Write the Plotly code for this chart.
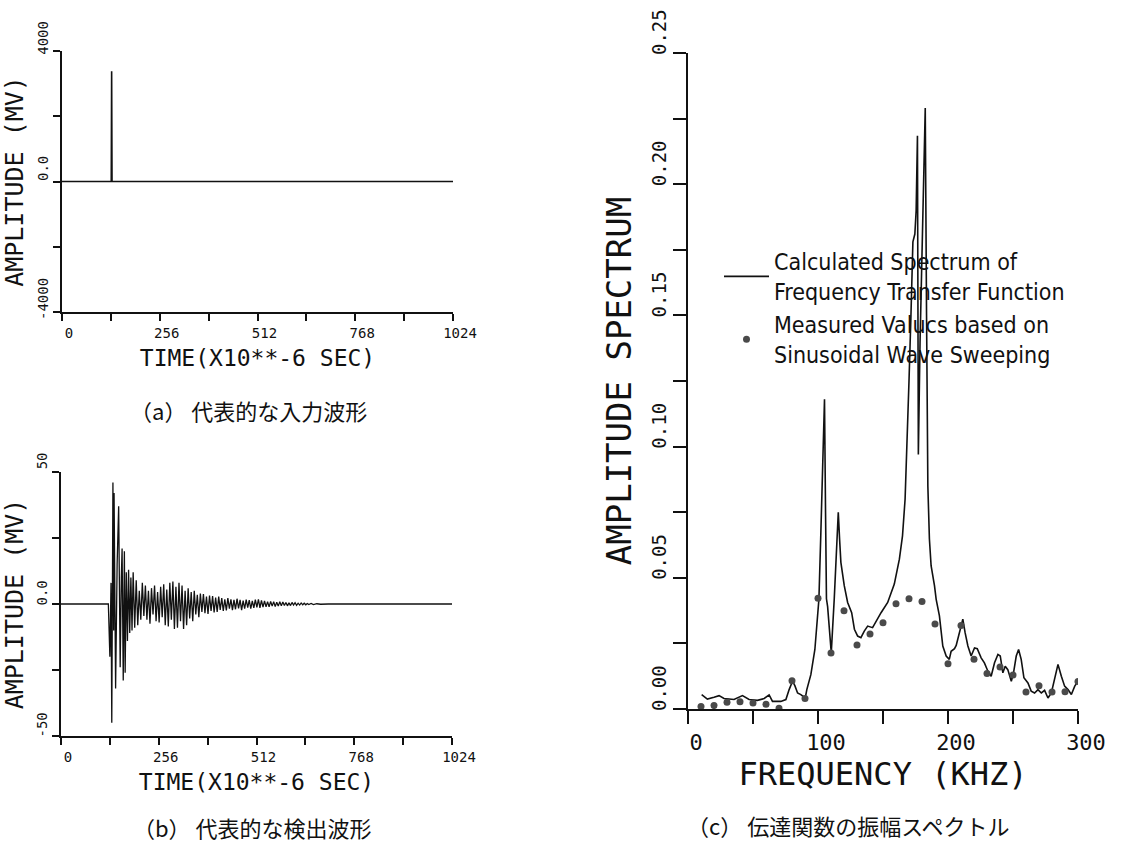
import plotly.graph_objects as go

# ---------------- data ----------------
# (a) typical input waveform (time in microseconds, amplitude in mV)
t_input = [0, 129, 130, 131, 1024]
v_input = [0, 0, 3380, 0, 0]

# (b) typical detected waveform (extremes)
t_detect = [0, 124, 128, 131, 133, 136, 138, 139, 143, 147, 151, 155, 158, 160, 163, 166, 168, 171,
            174, 177, 180, 183, 186, 189, 193, 197, 201, 205, 209, 213, 217, 221, 225, 229, 233,
            237, 241, 245, 249, 253, 257, 261, 265, 269, 273, 277, 281, 285, 289, 293, 297, 301,
            305, 309, 313, 317, 321, 325, 329, 333, 337, 341, 345, 349, 353, 357, 361, 365, 369,
            373, 377, 381, 385, 389, 393, 397, 401, 405, 409, 413, 417, 421, 425, 429, 433, 437,
            441, 445, 449, 453, 457, 461, 465, 469, 473, 477, 481, 485, 489, 493, 497, 501, 505,
            509, 513, 517, 521, 525, 529, 533, 537, 541, 545, 549, 553, 557, 561, 565, 569, 573,
            577, 581, 585, 589, 593, 597, 601, 605, 609, 613, 617, 621, 625, 629, 633, 637, 641,
            645, 649, 655, 661, 670, 680, 700, 1024]
v_detect = [0, 0, -20, 8, -45, 46, -10, 42, -32, 15, 37, -24, 10, 21, -29, 20, -26, 12,
            -14, 13, -11, 10, -10, 12, -9, 9, -8, 5, -6, 8, -4.5, 7, -6, 5, -7.5,
            6, -4, 7, -6.5, 4.5, -7, 6.5, -5, 7.5, -8, 5.5, -8.5, 8, -6, 8.5, -9.5, 6.5,
            -9, 8, -6.5, 7, -9.5, 5, -8, 6, -5.5, 4.5, -6.5, 5, -4, 3.5, -5, 4, -3,
            3.8, -3.5, 2.8, -3.8, 3.2, -2.6, 3, -3.2, 2.4, -3, 2.8, -2.2, 2.2, -2.6, 1.8, -2.4, 2.2,
            -1.8, 1.8, -2.3, 1.6, -2, 2, -1.7, 1.6, -2.3, 1.3, -1.8, 1.7, -1.4, 1.5, -1.8, 1.2, -1.5,
            1.7, -1.3, 1.8, -1.5, 1.4, -1.2, 1.2, -1.1, 0.9, -1.1, 1, -0.8, 0.9, -1, 0.7, -0.8, 0.9,
            -0.7, 0.8, -0.6, 0.6, -0.7, 0.5, -0.6, 0.6, -0.4, 0.5, -0.5, 0.3, -0.4, 0.4, -0.3, 0.3, -0.3,
            0.2, -0.2, 0.2, -0.2, 0.1, -0.1, 0, 0]

# (c) amplitude spectrum of the transfer function
freq_calc = [10.5, 14.9, 20, 23.9, 27.7, 35.4, 41.9, 47, 53.4, 58.6, 62.4, 65, 71.4, 75.3, 77.8,
             80.4, 82.2, 84.3, 86.8, 90.2, 91.4, 94.5, 97.6, 100.7, 102.2, 103.5, 105, 105.8,
             106.5, 107.4, 108.5, 110.2, 112.5, 114.6, 115.6, 116.6, 117.6, 120.2, 122.8, 125.9,
             128, 130.5, 133, 135.6, 138.2, 142, 144.6, 148.5, 153.6, 158.7, 162.6, 165, 167,
             168.5, 170, 171.5, 173, 174.5, 175.5, 176.5, 177.2, 178.5, 180, 181.5, 182.5, 183.5,
             184.5, 185.7, 187, 189.6, 190.9, 193.4, 196, 198.6, 201, 202.4, 205, 206.3, 208.8,
             211.4, 213.2, 215.3, 217.8, 220.4, 222.5, 225.5, 228, 230.7, 233.2, 235.8, 238.4,
             240.2, 242.2, 244, 246, 248.7, 250.4, 252.5, 254.3, 256.3, 258.4, 261.5, 264, 266.6,
             269.2, 271.8, 274.3, 276.9, 279.5, 282, 284.6, 287.2, 289.7, 292.3, 294.9, 297.5, 300]
amp_calc = [0.0055, 0.0038, 0.0045, 0.0051, 0.004, 0.0036, 0.0051, 0.0036, 0.0033, 0.004, 0.0054,
            0.0029, 0.0029, 0.0036, 0.0074, 0.0106, 0.0089, 0.0061, 0.0055, 0.0042, 0.0074, 0.0131,
            0.0227, 0.0418, 0.0673, 0.093, 0.118, 0.075, 0.042, 0.039, 0.032, 0.0214, 0.042, 0.067,
            0.075, 0.0648, 0.0559, 0.047, 0.0406, 0.0367, 0.0304, 0.0278, 0.0272, 0.0297, 0.0316,
            0.031, 0.0335, 0.0367, 0.0406, 0.0476, 0.0571, 0.066, 0.08, 0.1, 0.125, 0.15, 0.178,
            0.181, 0.19, 0.2185, 0.097, 0.14, 0.175, 0.205, 0.229, 0.15, 0.085, 0.0648, 0.0546,
            0.047, 0.0418, 0.0355, 0.024, 0.0202, 0.0189, 0.022, 0.023, 0.0242, 0.029, 0.0342,
            0.029, 0.024, 0.0202, 0.0233, 0.023, 0.0195, 0.0176, 0.0144, 0.0125, 0.0176, 0.0208,
            0.0202, 0.0138, 0.0163, 0.015, 0.0106, 0.0138, 0.0202, 0.0227, 0.0189, 0.0119, 0.0099,
            0.0068, 0.0061, 0.0074, 0.0061, 0.0071, 0.0042, 0.0061, 0.0112, 0.017, 0.0125, 0.0087,
            0.0074, 0.0055, 0.0087, 0.0106]

freq_meas = [10, 20, 30, 40, 50, 60, 70, 80, 90, 100, 110, 120, 130, 140, 150, 160, 170, 180,
             190, 200, 210, 220, 230, 240, 250, 260, 270, 280, 290, 300]
amp_meas = [0.001, 0.0013, 0.0026, 0.0028, 0.0023, 0.0018, 0.0003, 0.0108, 0.004, 0.0422,
            0.0213, 0.0374, 0.0244, 0.0286, 0.0329, 0.0401, 0.042, 0.041, 0.0324, 0.0172,
            0.0318, 0.019, 0.0135, 0.016, 0.013, 0.0065, 0.0089, 0.0065, 0.0066, 0.0105]

time_ticks = [0, 128, 256, 384, 512, 640, 768, 896, 1024]
time_labels = ["0", "", "256", "", "512", "", "768", "", "1024"]
a_ticks = [-4000, -2000, 0, 2000, 4000]
a_labels = ["-4000", "", "0.0", "", "4000"]
b_ticks = [-50, -25, 0, 25, 50]
b_labels = ["-50", "", "0.0", "", "50"]
f_ticks = [0, 50, 100, 150, 200, 250, 300]
f_labels = ["0", "", "100", "", "200", "", "300"]
s_ticks = [0, 0.025, 0.05, 0.075, 0.1, 0.125, 0.15, 0.175, 0.2, 0.225, 0.25]
s_labels = ["0.00", "", "0.05", "", "0.10", "", "0.15", "", "0.20", "", "0.25"]

W, H = 1127, 844
MONO = "DejaVu Sans Mono"
INK = "#111111"

fig = go.Figure()
fig.add_trace(go.Scatter(x=t_input, y=v_input, mode="lines", line=dict(color=INK, width=1.6),
                         xaxis="x", yaxis="y", showlegend=False))
fig.add_trace(go.Scatter(x=t_detect, y=v_detect, mode="lines", line=dict(color=INK, width=1.3),
                         xaxis="x2", yaxis="y2", showlegend=False))
fig.add_trace(go.Scatter(x=freq_calc, y=amp_calc, mode="lines", line=dict(color=INK, width=1.6),
                         xaxis="x3", yaxis="y3",
                         name="Calculated Spectrum of<br>Frequency Transfer Function"))
fig.add_trace(go.Scatter(x=freq_meas, y=amp_meas, mode="markers",
                         marker=dict(color="#4a4a4a", size=7),
                         xaxis="x3", yaxis="y3",
                         name="Measured Valucs based on<br>Sinusoidal Wave Sweeping"))


def px_x(a, b):
    return [a / W, b / W]


def px_y(top, bottom):
    return [1 - bottom / H, 1 - top / H]


common = dict(showline=True, linecolor=INK, linewidth=1.5, ticks="outside", tickcolor=INK,
              tickwidth=1.5, showgrid=False, zeroline=False, mirror=False, automargin=False,
              tickfont=dict(family=MONO, size=14, color=INK))

fig.update_layout(
    width=W, height=H, margin=dict(l=0, r=0, t=0, b=0, autoexpand=False),
    paper_bgcolor="white", plot_bgcolor="white",
    xaxis=dict(common, domain=px_x(62, 453), anchor="y", range=[0, 1024],
               tickmode="array", tickvals=time_ticks, ticktext=time_labels, ticklen=7,
               ticklabelshift=7,
               title=dict(text="TIME(X10**-6 SEC)", font=dict(family=MONO, size=23, color=INK),
                          standoff=10)),
    yaxis=dict(common, domain=px_y(51, 312), anchor="x", range=[-4000, 4000],
               tickmode="array", tickvals=a_ticks, ticktext=a_labels, ticklen=7,
               tickangle=-90, ticklabelshift=-11,
               title=dict(text="AMPLITUDE (MV)", font=dict(family=MONO, size=25, color=INK),
                          standoff=8)),
    xaxis2=dict(common, domain=px_x(61, 452), anchor="y2", range=[0, 1024],
                tickmode="array", tickvals=time_ticks, ticktext=time_labels, ticklen=7,
                ticklabelshift=7,
                title=dict(text="TIME(X10**-6 SEC)", font=dict(family=MONO, size=23, color=INK),
                           standoff=10)),
    yaxis2=dict(common, domain=px_y(472, 736), anchor="x2", range=[-50, 50],
                tickmode="array", tickvals=b_ticks, ticktext=b_labels, ticklen=7,
                tickangle=-90, ticklabelshift=-9,
                title=dict(text="AMPLITUDE (MV)", font=dict(family=MONO, size=25, color=INK),
                           standoff=8)),
    xaxis3=dict(common, domain=px_x(688, 1078), anchor="y3", range=[0, 300],
                tickmode="array", tickvals=f_ticks, ticktext=f_labels, ticklen=13,
                ticklabelshift=8, tickfont=dict(family=MONO, size=22, color=INK),
                title=dict(text="FREQUENCY (KHZ)", font=dict(family=MONO, size=32, color=INK),
                           standoff=8)),
    yaxis3=dict(common, domain=px_y(53, 709), anchor="x3", range=[0, 0.25],
                tickmode="array", tickvals=s_ticks, ticktext=s_labels, ticklen=13,
                tickangle=-90, ticklabelshift=-18, tickfont=dict(family=MONO, size=19, color=INK),
                title=dict(text="AMPLITUDE SPECTRUM", font=dict(family=MONO, size=34, color=INK),
                           standoff=6)),
    legend=dict(x=719 / W, y=1 - 240 / H, xanchor="left", yanchor="top",
                bgcolor="rgba(0,0,0,0)", borderwidth=0, itemwidth=45,
                font=dict(family="DejaVu Sans Condensed, Liberation Sans Narrow, DejaVu Sans",
                          size=23, color=INK),
                tracegroupgap=6),
    annotations=[
        dict(text="（a） 代表的な入力波形", x=248 / W, y=1 - 410 / H, xref="paper", yref="paper",
             xanchor="center", yanchor="middle", showarrow=False,
             font=dict(family="Noto Sans CJK JP", size=22, color=INK)),
        dict(text="（b） 代表的な検出波形", x=252 / W, y=1 - 827 / H, xref="paper", yref="paper",
             xanchor="center", yanchor="middle", showarrow=False,
             font=dict(family="Noto Sans CJK JP", size=22, color=INK)),
        dict(text="（c） 伝達関数の振幅スペクトル", x=848 / W, y=1 - 825 / H, xref="paper",
             yref="paper", xanchor="center", yanchor="middle", showarrow=False,
             font=dict(family="Noto Sans CJK JP", size=22, color=INK)),
    ],
)

fig.write_html("out.html")
